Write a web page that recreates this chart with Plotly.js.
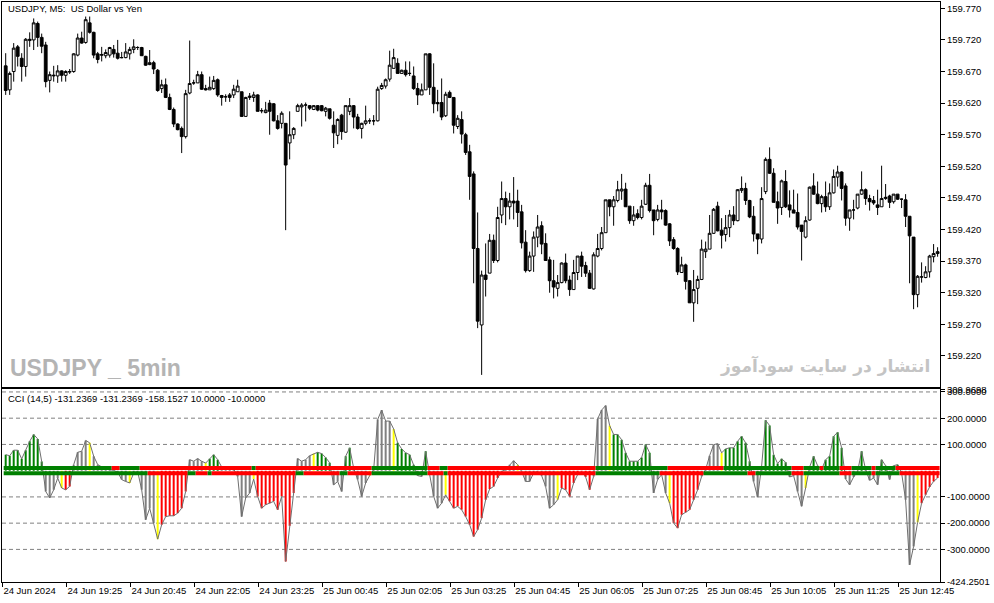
<!DOCTYPE html>
<html><head><meta charset="utf-8">
<script src="https://cdn.plot.ly/plotly-3.0.1.min.js"></script>
<style>html,body{margin:0;padding:0;background:#fff}#chart{width:994px;height:603px}</style>
</head><body><div id="chart"></div>
<script>
// ---- price data (USDJPY M5), one value per bar ----
const priceOpen = [
159.679,159.641,159.670,159.709,159.691,159.678,159.719,159.720,159.746,159.724,
159.712,159.656,159.663,159.663,159.671,159.664,159.669,159.670,159.696,159.723,
159.716,159.747,159.732,159.698,159.697,159.695,159.696,159.705,159.699,159.692,
159.692,159.698,159.705,159.708,159.708,159.694,159.681,159.684,159.672,159.643,
159.649,159.629,159.610,159.587,159.580,159.567,159.636,159.652,159.652,159.665,
159.643,159.641,159.643,159.657,159.632,159.630,159.633,159.633,159.638,159.638,
159.599,159.629,159.629,159.633,159.608,159.605,159.620,159.619,159.592,159.588,
159.588,159.557,159.570,159.607,159.614,159.617,159.616,159.610,159.616,159.616,
159.607,159.611,159.585,159.569,159.601,159.574,159.607,159.616,159.598,159.580,
159.588,159.592,159.592,159.592,159.643,159.647,159.658,159.675,159.683,159.667,
159.672,159.667,159.663,159.643,159.633,159.641,159.698,159.645,159.621,159.621,
159.600,159.637,159.629,159.583,159.594,159.570,159.543,159.508,159.390,159.269,
159.348,159.351,159.403,159.371,159.443,159.469,159.456,159.465,159.465,159.448,
159.400,159.355,159.378,159.408,159.426,159.398,159.372,159.339,159.327,159.336,
159.367,159.340,159.325,159.352,159.378,159.363,159.351,159.326,159.378,159.390,
159.415,159.467,159.456,159.466,159.481,159.484,159.457,159.434,159.445,159.439,
159.460,159.490,159.451,159.436,159.451,159.450,159.429,159.404,159.390,159.352,
159.364,159.339,159.304,159.327,159.341,159.385,159.389,159.414,159.457,159.419,
159.412,159.423,159.443,159.434,159.482,159.485,159.466,159.441,159.413,159.405,
159.480,159.531,159.509,159.464,159.455,159.496,159.459,159.451,159.447,159.427,
159.408,159.435,159.489,159.476,159.461,159.472,159.456,159.478,159.503,159.511,
159.489,159.438,159.451,159.454,159.476,159.483,159.469,159.466,159.459,159.456,
159.469,159.473,159.464,159.476,159.468,159.467,159.441,159.408,159.317,159.345,
159.344,159.353,159.377,159.382];
const priceHigh = [
159.699,159.670,159.715,159.712,159.699,159.723,159.732,159.754,159.749,159.730,
159.717,159.670,159.679,159.680,159.672,159.672,159.674,159.699,159.730,159.733,
159.757,159.757,159.733,159.701,159.709,159.705,159.709,159.712,159.720,159.701,
159.715,159.709,159.721,159.710,159.709,159.695,159.704,159.687,159.674,159.657,
159.659,159.635,159.613,159.588,159.583,159.641,159.719,159.657,159.671,159.670,
159.649,159.662,159.663,159.659,159.633,159.634,159.636,159.649,159.657,159.638,
159.630,159.636,159.638,159.634,159.612,159.622,159.625,159.620,159.601,159.607,
159.588,159.607,159.582,159.619,159.620,159.621,159.617,159.617,159.617,159.617,
159.614,159.611,159.607,159.596,159.603,159.616,159.628,159.617,159.603,159.589,
159.616,159.596,159.601,159.646,159.652,159.659,159.703,159.706,159.691,159.673,
159.686,159.686,159.678,159.652,159.651,159.698,159.699,159.683,159.641,159.659,
159.638,159.640,159.629,159.601,159.607,159.573,159.554,159.512,159.447,159.355,
159.398,159.413,159.412,159.456,159.496,159.480,159.478,159.503,159.483,159.459,
159.419,159.385,159.417,159.443,159.433,159.414,159.377,159.372,159.348,159.368,
159.382,159.347,159.372,159.378,159.385,159.369,159.356,159.384,159.413,159.424,
159.467,159.467,159.473,159.497,159.508,159.494,159.457,159.457,159.452,159.467,
159.494,159.508,159.451,159.459,159.467,159.452,159.430,159.408,159.392,159.377,
159.366,159.340,159.356,159.347,159.404,159.401,159.443,159.454,159.464,159.438,
159.443,159.451,159.457,159.484,159.504,159.494,159.467,159.457,159.413,159.487,
159.534,159.550,159.517,159.480,159.499,159.514,159.482,159.483,159.477,159.427,
159.441,159.488,159.509,159.496,159.475,159.496,159.493,159.515,159.521,159.512,
159.493,159.451,159.467,159.476,159.512,159.485,159.475,159.473,159.483,159.521,
159.492,159.475,159.476,159.476,159.469,159.476,159.441,159.408,159.348,159.368,
159.362,159.380,159.397,159.392];
const priceLow = [
159.633,159.633,159.654,159.678,159.654,159.662,159.709,159.704,159.709,159.699,
159.645,159.637,159.654,159.652,159.654,159.654,159.666,159.668,159.694,159.714,
159.714,159.730,159.691,159.683,159.686,159.691,159.692,159.692,159.689,159.691,
159.691,159.689,159.699,159.704,159.695,159.679,159.680,159.666,159.638,159.636,
159.628,159.609,159.582,159.577,159.541,159.564,159.634,159.649,159.652,159.641,
159.640,159.641,159.641,159.630,159.616,159.622,159.622,159.628,159.638,159.598,
159.599,159.625,159.622,159.607,159.604,159.604,159.570,159.591,159.578,159.580,
159.419,159.531,159.563,159.607,159.583,159.591,159.609,159.609,159.607,159.607,
159.599,159.594,159.549,159.555,159.562,159.573,159.601,159.580,159.578,159.564,
159.585,159.587,159.585,159.591,159.641,159.643,159.654,159.675,159.667,159.667,
159.662,159.663,159.641,159.617,159.633,159.641,159.633,159.604,159.607,159.593,
159.598,159.628,159.572,159.579,159.556,159.538,159.467,159.335,159.264,159.190,
159.314,159.351,159.367,159.368,159.430,159.427,159.436,159.436,159.424,159.390,
159.352,159.353,159.353,159.392,159.381,159.371,159.320,159.311,159.314,159.335,
159.335,159.315,159.325,159.340,159.345,159.345,159.326,159.325,159.376,159.387,
159.415,159.441,159.426,159.463,159.467,159.456,159.429,159.426,159.436,159.436,
159.459,159.447,159.411,159.433,159.436,159.426,159.394,159.388,159.348,159.352,
159.325,159.304,159.274,159.302,159.340,159.375,159.389,159.413,159.417,159.390,
159.401,159.408,159.427,159.433,159.478,159.459,159.438,159.401,159.381,159.398,
159.476,159.508,159.463,159.429,159.443,159.454,159.439,159.446,159.420,159.371,
159.406,159.434,159.475,159.460,159.447,159.448,159.451,159.477,159.488,159.466,
159.426,159.418,159.436,159.452,159.475,159.459,159.450,159.459,159.443,159.456,
159.467,159.454,159.461,159.467,159.454,159.424,159.335,159.294,159.297,159.336,
159.343,159.344,159.368,159.377];
const priceClose = [
159.640,159.667,159.707,159.694,159.678,159.721,159.721,159.747,159.724,159.710,
159.654,159.665,159.664,159.671,159.664,159.670,159.670,159.698,159.723,159.715,
159.752,159.732,159.696,159.689,159.696,159.700,159.708,159.698,159.691,159.692,
159.701,159.705,159.709,159.708,159.695,159.680,159.684,159.674,159.640,159.649,
159.629,159.610,159.587,159.578,159.567,159.635,159.651,159.652,159.665,159.642,
159.641,159.645,159.656,159.633,159.629,159.630,159.629,159.642,159.647,159.599,
159.629,159.631,159.633,159.607,159.608,159.609,159.607,159.592,159.580,159.604,
159.522,159.570,159.580,159.616,159.617,159.617,159.612,159.616,159.609,159.608,
159.612,159.596,159.573,159.594,159.575,159.616,159.616,159.598,159.580,159.588,
159.592,159.592,159.592,159.642,159.648,159.657,159.680,159.692,159.667,159.672,
159.665,159.667,159.643,159.633,159.641,159.698,159.645,159.619,159.619,159.598,
159.634,159.629,159.585,159.596,159.571,159.542,159.504,159.390,159.275,159.348,
159.341,159.403,159.371,159.439,159.469,159.456,159.465,159.462,159.447,159.399,
159.355,159.378,159.408,159.424,159.397,159.371,159.339,159.329,159.336,159.367,
159.339,159.325,159.352,159.378,159.362,159.351,159.327,159.380,159.390,159.415,
159.467,159.456,159.467,159.483,159.484,159.456,159.434,159.443,159.439,159.457,
159.490,159.450,159.434,159.451,159.448,159.427,159.402,159.390,159.353,159.364,
159.338,159.304,159.325,159.341,159.389,159.389,159.414,159.452,159.418,159.411,
159.423,159.443,159.434,159.483,159.485,159.466,159.440,159.413,159.405,159.469,
159.531,159.509,159.463,159.454,159.497,159.456,159.451,159.446,159.424,159.417,
159.434,159.487,159.476,159.461,159.472,159.456,159.478,159.504,159.511,159.485,
159.438,159.451,159.451,159.476,159.483,159.469,159.464,159.462,159.455,159.469,
159.471,159.463,159.476,159.468,159.468,159.441,159.410,159.317,159.346,159.345,
159.353,159.378,159.382,159.385];

// ---- CCI (14,5) values, one per bar ----
const cciValues = [
61,57,78,78,45,78,112,138,121,35,
-79,-104,-73,-28,-66,-73,-60,23,70,74,
115,106,55,23,14,6,4,1,-6,-34,
-41,-47,-9,-4,-73,-187,-143,-200,-261,-206,
-175,-172,-172,-162,-143,-79,42,36,46,36,
29,45,61,42,14,6,4,6,-22,-175,
-104,-85,-32,-98,-143,-130,-124,-117,-149,-98,
-346,-210,-85,46,36,42,57,65,70,65,
50,30,-54,-41,-79,55,87,10,-34,-98,
-47,-19,4,195,231,189,189,159,106,83,
68,61,23,-19,-22,74,-15,-98,-143,-124,
-92,-117,-143,-136,-149,-175,-206,-251,-225,-181,
-111,-70,-60,-28,-3,4,23,38,23,-3,
-41,-41,-9,-3,-19,-60,-143,-130,-111,-66,
-73,-98,-47,-15,-3,-24,-73,-22,197,231,
248,172,138,138,118,68,36,36,36,50,
100,68,-85,-34,-15,-85,-124,-200,-219,-168,
-159,-149,-111,-73,-22,4,57,99,103,68,
83,87,87,112,131,106,36,-41,-101,17,
192,172,61,27,45,32,-24,-19,-79,-136,
-66,14,55,19,4,42,55,131,146,87,
-32,-54,-24,-3,74,4,-37,-28,-54,42,
19,-34,19,23,-9,-111,-359,-289,-197,-124,
-92,-62,-41,-28];

// histogram colour states as runs [count, state]: g=up, r=down, y=signal, a=neutral
const cciColorRuns = [[10,'g'],[4,'a'],[1,'y'],[2,'r'],[4,'a'],[1,'y'],[9,'a'],[1,'y'],[6,'a'],[1,'y'],[7,'r'],[4,'a'],[1,'y'],[3,'g'],[8,'a'],[1,'y'],[10,'r'],[4,'a'],[1,'y'],[4,'g'],[3,'a'],[2,'g'],[4,'a'],[1,'y'],[5,'a'],[1,'y'],[5,'g'],[2,'a'],[1,'g'],[4,'a'],[1,'y'],[13,'r'],[4,'a'],[1,'y'],[9,'a'],[1,'y'],[8,'r'],[4,'a'],[1,'y'],[10,'g'],[4,'a'],[1,'y'],[7,'r'],[5,'a'],[1,'y'],[7,'g'],[3,'a'],[6,'g'],[4,'a'],[1,'y'],[1,'a'],[8,'g'],[4,'a'],[1,'g'],[4,'a'],[2,'g'],[1,'a'],[2,'g'],[4,'a'],[1,'y'],[5,'r']];
// level lines (+10 / -10) colour states as runs
const upperLevelRuns = [[27,'g'],[2,'r'],[5,'g'],[28,'r'],[1,'g'],[29,'r'],[14,'g'],[3,'r'],[2,'g'],[37,'r'],[18,'g'],[14,'r'],[17,'g'],[3,'r'],[4,'g'],[1,'r'],[4,'g'],[3,'r'],[5,'g'],[1,'r'],[5,'g'],[11,'r']];
const lowerLevelRuns = [[36,'g'],[10,'r'],[2,'g'],[3,'r'],[1,'g'],[21,'r'],[2,'g'],[9,'r'],[2,'g'],[6,'r'],[14,'g'],[4,'r'],[1,'g'],[37,'r'],[16,'g'],[11,'r'],[11,'g'],[2,'r'],[9,'g'],[3,'r'],[9,'g'],[3,'r'],[5,'g'],[1,'r'],[6,'g'],[10,'r']];
const cciLevels = [10, -10];
const cciGridLevels = [300, 200, 100, -100, -200, -300];

// ---- axis labels ----
const timeLabels = ['24 Jun 2024','24 Jun 19:25','24 Jun 20:45','24 Jun 22:05','24 Jun 23:25','25 Jun 00:45','25 Jun 02:05','25 Jun 03:25','25 Jun 04:45','25 Jun 06:05','25 Jun 07:25','25 Jun 08:45','25 Jun 10:05','25 Jun 11:25','25 Jun 12:45'];
const barsPerLabel = 16;
const priceTicks = [159.770,159.720,159.670,159.620,159.570,159.520,159.470,159.420,159.370,159.320,159.270,159.220];
const cciTicks = [309.9698, 300, 200, 100, -100, -200, -300, -424.2501];
const cciTickText = ['309.9698','300.0000','200.0000','100.0000','-100.0000','-200.0000','-300.0000','-424.2501'];

// ---- build ----
const colorOf = {g:'#008000', r:'#ff0000', y:'#ffff00', a:'#808080'};
function expand(runs){ const out=[]; runs.forEach(([n,s])=>{for(let i=0;i<n;i++) out.push(colorOf[s]);}); return out; }
const bars = priceOpen.map((_, i) => i);
const histColors = expand(cciColorRuns);

// level lines: one line segment per colour run, spanning its bars
function levelSegments(runs, level){
  const segs = []; let start = 0;
  runs.forEach(([n,s])=>{
    segs.push({type:'scatter', mode:'lines', x:[start-0.5, start+n-0.5], y:[level, level],
      xaxis:'x2', yaxis:'y2', line:{color:colorOf[s], width:4}, hoverinfo:'skip', showlegend:false});
    start += n;
  });
  return segs;
}

const traces = [
  {type:'candlestick', x:bars, open:priceOpen, high:priceHigh, low:priceLow, close:priceClose,
   xaxis:'x', yaxis:'y', whiskerwidth:0,
   increasing:{line:{color:'#000', width:1}, fillcolor:'#ffffff'},
   decreasing:{line:{color:'#000', width:1}, fillcolor:'#000000'},
   hoverinfo:'skip', showlegend:false},
  {type:'bar', x:bars, y:cciValues, xaxis:'x2', yaxis:'y2', width:0.5,
   marker:{color:histColors, line:{width:0}}, hoverinfo:'skip', showlegend:false},
  {type:'scatter', mode:'lines', x:bars, y:cciValues, xaxis:'x2', yaxis:'y2',
   line:{color:'#6e6e6e', width:1}, hoverinfo:'skip', showlegend:false}
].concat(levelSegments(upperLevelRuns, cciLevels[0]), levelSegments(lowerLevelRuns, cciLevels[1]));

const tickFont = {family:'Liberation Sans, Arial, sans-serif', size:9.5, color:'#000'};
const xRange = [-0.925, 233.6];
const layout = {
  width:994, height:603,
  margin:{l:2, r:54, t:2, b:21},
  paper_bgcolor:'#fff', plot_bgcolor:'#fff',
  showlegend:false, barmode:'overlay', boxgap:0.3, boxgroupgap:0,
  xaxis:{domain:[0,1], anchor:'y', range:xRange, showticklabels:false, ticks:'',
         showgrid:false, zeroline:false, showline:true, mirror:true, linecolor:'#000', linewidth:1,
         rangeslider:{visible:false}},
  yaxis:{domain:[0.3367,1], anchor:'x', side:'right', range:[159.1713, 159.780],
         tickvals:priceTicks, ticktext:priceTicks.map(v=>v.toFixed(3)),
         ticks:'outside', ticklen:4, tickcolor:'#000', tickfont:tickFont,
         showgrid:false, zeroline:false, showline:true, mirror:true, linecolor:'#000', linewidth:1},
  xaxis2:{domain:[0,1], anchor:'y2', range:xRange, matches:'x',
          tickvals:timeLabels.map((_, j)=> j*barsPerLabel - 0.825), ticktext:timeLabels,
          ticks:'outside', ticklen:4, tickcolor:'#000', tickfont:tickFont,
          ticklabelposition:'outside right',
          showgrid:false, zeroline:false, showline:true, mirror:true, linecolor:'#000', linewidth:1},
  yaxis2:{domain:[0,0.3322], anchor:'x2', side:'right', range:[-424.2501, 309.9698],
          tickvals:cciTicks, ticktext:cciTickText,
          ticks:'outside', ticklen:4, tickcolor:'#000', tickfont:tickFont,
          showgrid:false, zeroline:false, showline:true, mirror:true, linecolor:'#000', linewidth:1},
  shapes: cciGridLevels.map(v=>({type:'line', xref:'x2 domain', yref:'y2', x0:0, x1:1, y0:v, y1:v,
          line:{color:'#808080', width:1, dash:'4px,3px'}, layer:'below'})),
  annotations:[
    {text:'USDJPY, M5:  US Dollar vs Yen', xref:'paper', yref:'paper', x:0.004, y:0.988,
     xanchor:'left', yanchor:'middle', showarrow:false, font:{family:'Liberation Sans, Arial, sans-serif', size:9.5, color:'#000'}},
    {text:'CCI (14,5) -131.2369 -131.2369 -158.1527 10.0000 -10.0000', xref:'paper', yref:'paper', x:0.004, y:0.317,
     xanchor:'left', yanchor:'middle', showarrow:false, font:{family:'Liberation Sans, Arial, sans-serif', size:9.5, color:'#000'}},
    {text:'<b>USDJPY _ 5min</b>', xref:'paper', yref:'paper', x:0.0065, y:0.369,
     xanchor:'left', yanchor:'middle', showarrow:false, font:{family:'Liberation Sans, Arial, sans-serif', size:23, color:'#b4b4b4'}},
    {text:'<b>انتشار در سایت سودآموز</b>', xref:'paper', yref:'paper', x:0.992, y:0.372,
     xanchor:'right', yanchor:'middle', showarrow:false, font:{family:'DejaVu Sans, sans-serif', size:17, color:'#c4c4c4'}}
  ]
};

Plotly.newPlot('chart', traces, layout, {staticPlot:true, displayModeBar:false});
</script>
</body></html>
